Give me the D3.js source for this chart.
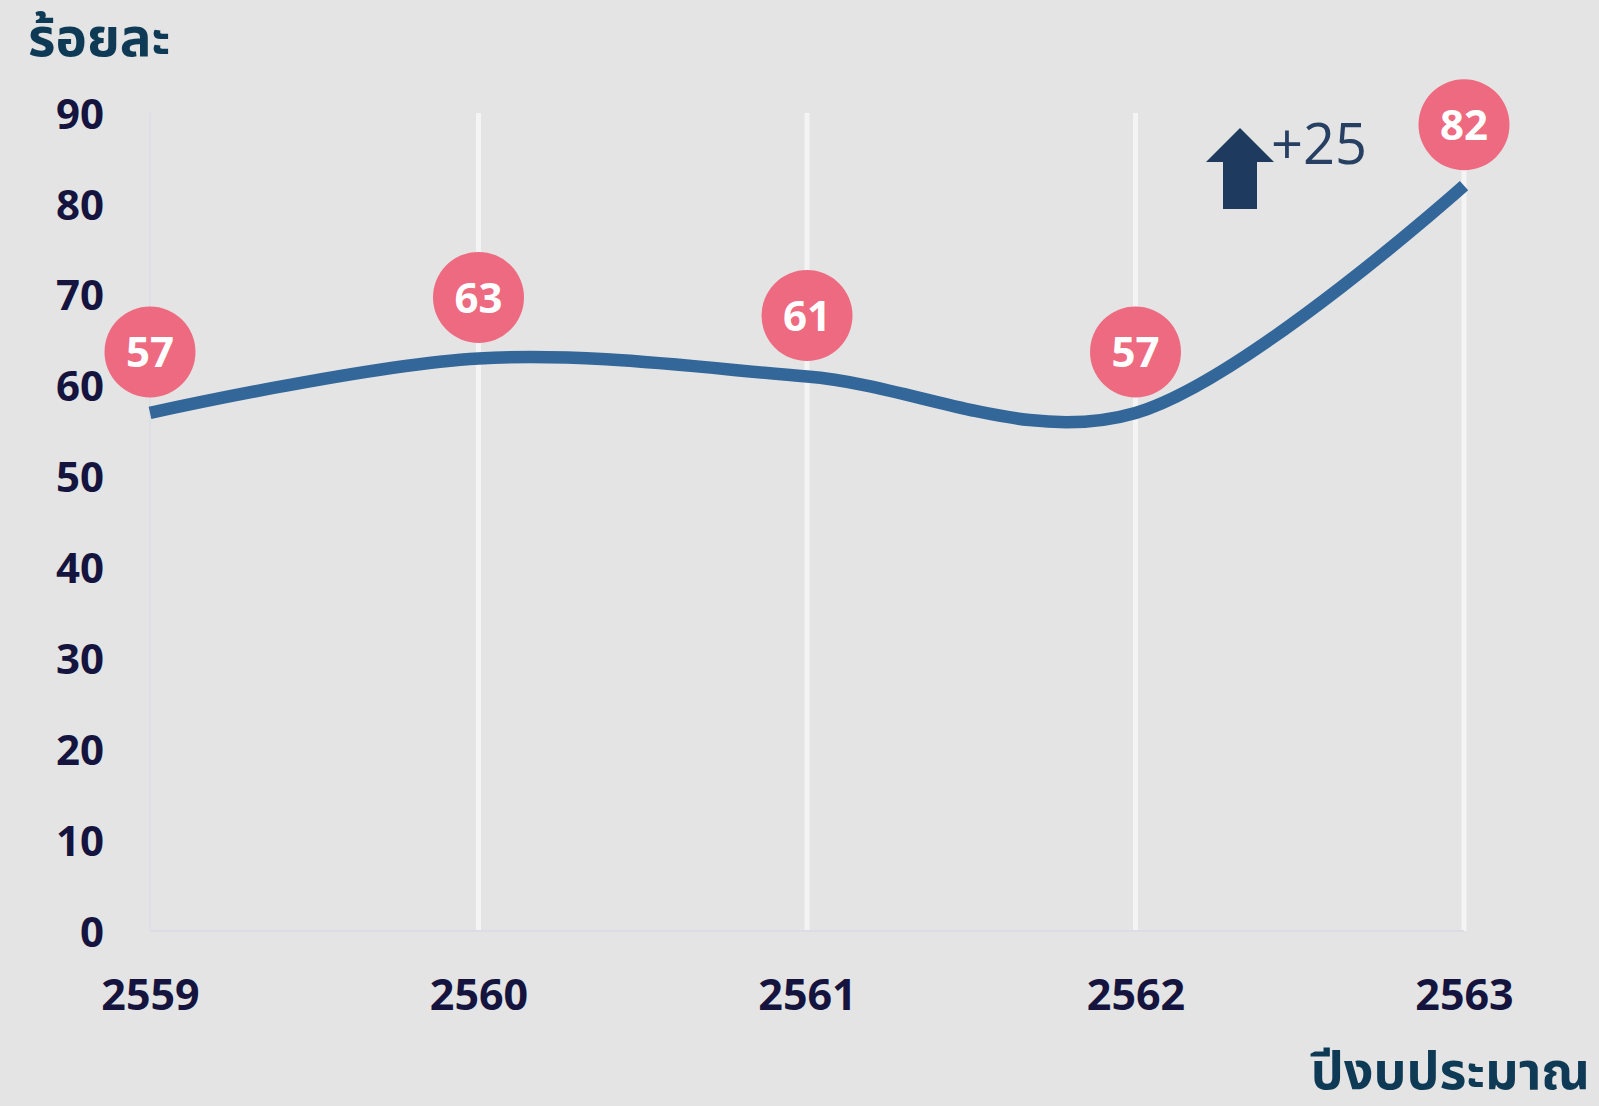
<!DOCTYPE html>
<html>
<head>
<meta charset="utf-8">
<script src="https://cdn.jsdelivr.net/npm/d3@7"></script>
<style>
  html, body { margin: 0; padding: 0; background: #E4E4E4; }
  svg { display: block; }
</style>
</head>
<body>
<svg id="chart" width="1599" height="1106"></svg>
<script>
const years = ["2559", "2560", "2561", "2562", "2563"];
const values = [57, 63, 61, 57, 82];
const yTicks = [0, 10, 20, 30, 40, 50, 60, 70, 80, 90];
const yTitle = "ร้อยละ";
const xTitle = "ปีงบประมาณ";
const changeLabel = "+25";

const W = 1599, H = 1106;
const svg = d3.select("#chart");
const numFont = "'Open Sans', 'Noto Sans', sans-serif";
const thaiFont = "'Noto Sans Thai', 'Noto Sans', 'DejaVu Sans', sans-serif";

svg.append("rect").attr("width", W).attr("height", H).attr("fill", "#E4E4E4");

const x = d3.scalePoint().domain(years).range([150, 1464]);
const y = d3.scaleLinear().domain([0, 90]).range([931, 113]);

// vertical gridlines
svg.append("g").selectAll("line").data(years.slice(1)).join("line")
  .attr("x1", d => x(d)).attr("x2", d => x(d))
  .attr("y1", y(90)).attr("y2", y(0))
  .attr("stroke", "#F4F4F4").attr("stroke-width", 5);

// axis lines
svg.append("line").attr("x1", x(years[0])).attr("x2", x(years[0]))
  .attr("y1", y(90)).attr("y2", y(0))
  .attr("stroke", "#DCDCE6").attr("stroke-width", 1.5);
svg.append("line").attr("x1", x(years[0])).attr("x2", x(years[years.length - 1]))
  .attr("y1", y(0)).attr("y2", y(0))
  .attr("stroke", "#DCDCE6").attr("stroke-width", 2);

// y axis labels
const yAxis = d3.axisLeft(y).tickValues(yTicks).tickSize(0).tickPadding(0);
const gy = svg.append("g").attr("transform", "translate(104,0)").call(yAxis);
gy.select(".domain").remove();
gy.selectAll("text")
  .attr("font-family", numFont).attr("font-weight", 700)
  .attr("font-size", 42).attr("fill", "#14143F").attr("dy", "0.36em");

// x axis labels
const xAxis = d3.axisBottom(x).tickSize(0).tickPadding(0);
const gx = svg.append("g").attr("transform", "translate(0,995)").call(xAxis);
gx.select(".domain").remove();
gx.selectAll("text")
  .attr("font-family", numFont).attr("font-weight", 700)
  .attr("font-size", 43).attr("fill", "#14143F").attr("dy", "0.36em");

// smooth line
const line = d3.line()
  .x((d, i) => x(years[i]))
  .y(d => y(d))
  .curve(d3.curveCatmullRom.alpha(0));
svg.append("path").datum(values)
  .attr("d", line)
  .attr("fill", "none")
  .attr("stroke", "#336699")
  .attr("stroke-width", 12.5)
  .attr("stroke-linecap", "butt");

// bubble labels
const lab = svg.append("g").selectAll("g").data(values).join("g")
  .attr("transform", (d, i) => `translate(${x(years[i])},${y(d) - 61})`);
lab.append("circle").attr("r", 45.5).attr("fill", "#EE6A80");
lab.append("text").text(d => d)
  .attr("text-anchor", "middle").attr("dy", "0.36em")
  .attr("font-family", numFont).attr("font-weight", 700)
  .attr("font-size", 42).attr("fill", "#FFFFFF");

// arrow annotation
const arrowPts = [[1240, 128], [1274, 162], [1257, 162], [1257, 209], [1223, 209], [1223, 162], [1206, 162]];
svg.append("path").attr("d", d3.line()(arrowPts) + "Z").attr("fill", "#1F3A5F");
svg.append("text").text(changeLabel)
  .attr("x", 1271).attr("y", 164)
  .attr("font-family", numFont).attr("font-weight", 400)
  .attr("font-size", 56).attr("fill", "#263F62");

// axis titles
svg.append("text").text(yTitle)
  .attr("x", 28).attr("y", 56)
  .attr("font-family", thaiFont).attr("font-weight", 700)
  .attr("font-size", 53).attr("fill", "#0E3A55");
svg.append("text").text(xTitle)
  .attr("x", 1590).attr("y", 1089).attr("text-anchor", "end")
  .attr("font-family", thaiFont).attr("font-weight", 700)
  .attr("font-size", 52).attr("fill", "#0E3A55");
</script>
</body>
</html>
